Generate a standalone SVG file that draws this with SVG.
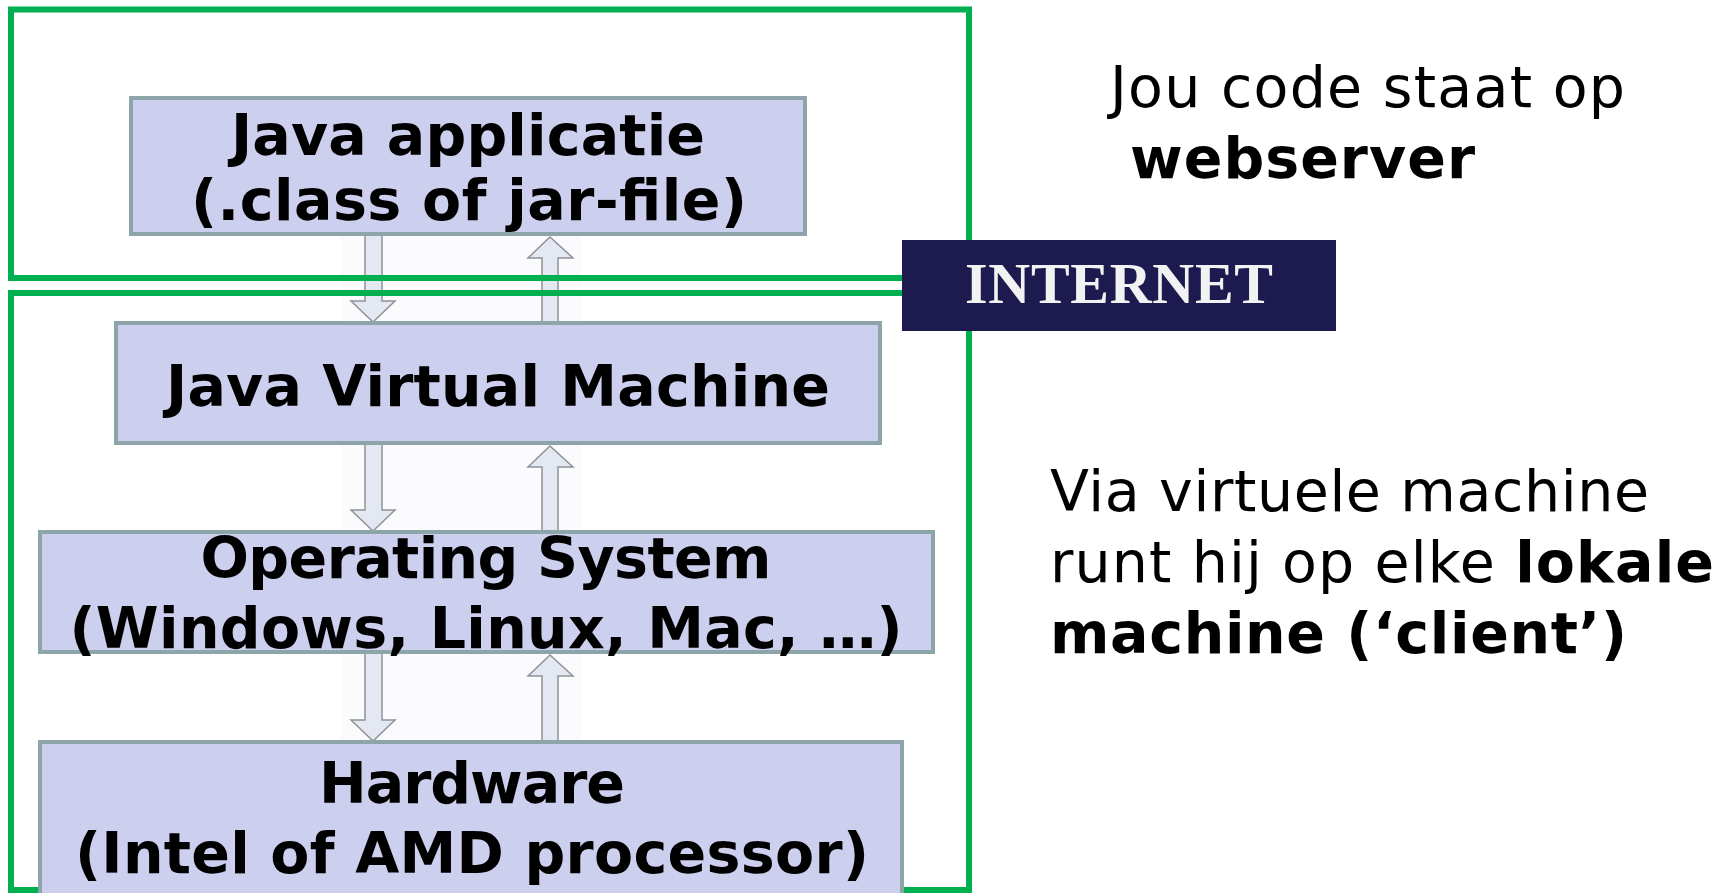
<svg xmlns="http://www.w3.org/2000/svg" width="1731" height="893" viewBox="0 0 1731 893">
<style>
.frame{fill:none;stroke:#00B050;stroke-width:6}
.box{fill:#CDCFEE;stroke:#8DA4A8;stroke-width:4}
.bt{font-family:"DejaVu Sans","Verdana",sans-serif;font-weight:bold;font-size:57px;fill:#000;text-anchor:middle}
.rt{font-family:"DejaVu Sans","Verdana",sans-serif;font-size:57px;fill:#000}
.b{font-weight:bold}
.arr{fill:#E3E8F2;stroke:#8E9297;stroke-width:1.5}
.abg{fill:#FBFBFD}
</style>
<rect width="1731" height="893" fill="#FFFFFF"/>
<g id="connectors">
  <rect class="abg" x="341" y="235" width="240" height="87"/>
  <rect class="abg" x="341" y="444" width="240" height="87"/>
  <rect class="abg" x="341" y="653" width="240" height="88"/>
  <path class="arr" d="M365,235 L382,235 L382,301 L395,301 L373,322 L351,301 L365,301 Z"/>
  <path class="arr" d="M550,237 L573,258 L558,258 L558,322 L542,322 L542,258 L528,258 Z"/>
  <path class="arr" d="M365,444 L382,444 L382,510 L395,510 L373,531 L351,510 L365,510 Z"/>
  <path class="arr" d="M550,446 L573,467 L558,467 L558,531 L542,531 L542,467 L528,467 Z"/>
  <path class="arr" d="M365,653 L382,653 L382,720 L395,720 L373,741 L351,720 L365,720 Z"/>
  <path class="arr" d="M550,655 L573,676 L558,676 L558,741 L542,741 L542,676 L528,676 Z"/>
</g>
<g id="frame-server">
  <rect class="frame" x="11" y="9.5" width="958" height="268.5"/>
</g>
<g id="frame-client">
  <rect class="frame" x="11" y="293" width="958" height="597"/>
</g>
<g id="node-java-app">
  <rect class="box" x="131" y="98" width="674" height="136"/>
  <text class="bt" x="468" y="155" textLength="474">Java applicatie</text>
  <text class="bt" x="469" y="220" textLength="556">(.class of jar-file)</text>
</g>
<g id="node-jvm">
  <rect class="box" x="116" y="323" width="764" height="120"/>
  <text class="bt" x="498" y="406" textLength="664">Java Virtual Machine</text>
</g>
<g id="node-os">
  <rect class="box" x="40" y="532" width="893" height="120"/>
  <text class="bt" x="486" y="578" textLength="571">Operating System</text>
  <text class="bt" x="486" y="648" textLength="833">(Windows, Linux, Mac, …)</text>
</g>
<g id="node-hardware">
  <rect class="box" x="40" y="742" width="862" height="160"/>
  <text class="bt" x="472" y="803" textLength="306">Hardware</text>
  <text class="bt" x="472" y="873" textLength="794">(Intel of AMD processor)</text>
</g>
<g id="node-internet">
  <rect x="902" y="240" width="434" height="91" fill="#1C1A4F"/>
  <text x="1119" y="303" font-family="'Liberation Serif','Times New Roman',serif" font-weight="bold" font-size="58" fill="#F2F2F2" text-anchor="middle" textLength="308">INTERNET</text>
</g>
<g id="label-server">
  <text class="rt" x="1110" y="107" textLength="515">Jou code staat op</text>
  <text class="rt b" x="1130" y="178" textLength="345">webserver</text>
</g>
<g id="label-client">
  <text class="rt" x="1050" y="511" textLength="599">Via virtuele machine</text>
  <text class="rt" x="1050" y="582" textLength="664">runt hij op elke <tspan class="b">lokale</tspan></text>
  <text class="rt b" x="1050" y="653" textLength="577">machine (‘client’)</text>
</g>
</svg>
